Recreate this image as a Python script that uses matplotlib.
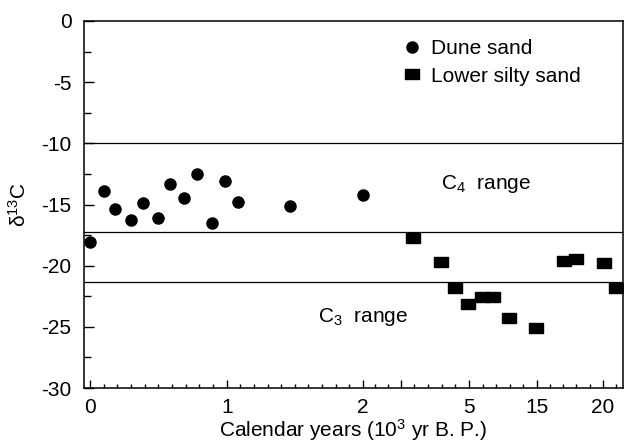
import numpy as np
import matplotlib
matplotlib.use("Agg")
import matplotlib.pyplot as plt
from matplotlib.path import Path
from matplotlib.ticker import FixedLocator, FixedFormatter, NullFormatter

plt.rcParams["font.family"] = ["Liberation Sans", "DejaVu Sans"]
plt.rcParams["axes.unicode_minus"] = False
plt.rcParams["mathtext.default"] = "regular"

FS = 15

# Dune sand samples (calendar age in ka, d13C permil)
dune_age = [0.0, 0.1, 0.18, 0.30, 0.39, 0.50, 0.585, 0.69, 0.78, 0.89, 0.99, 1.08, 1.465, 2.01]
dune_d13c = [-18.1, -13.9, -15.4, -16.3, -14.9, -16.1, -13.3, -14.5, -12.5, -16.5, -13.1, -14.8, -15.1, -14.2]

# Lower silty sand samples
silt_age = [3.37, 4.18, 4.59, 4.98, 6.9, 8.6, 10.9, 14.9, 17.06, 17.96, 20.08, 21.0]
silt_d13c = [-17.75, -19.7, -21.85, -23.1, -22.55, -22.55, -24.3, -25.1, -19.6, -19.45, -19.75, -21.85]

# Boundaries of the C4 and C3 photosynthetic ranges
c4_upper, c4_lower, c3_upper = -10.0, -17.25, -21.3

# Broken calendar axis: age breakpoints and their relative positions
age_breaks = np.array([0.0, 1.0, 2.0, 3.0, 5.0, 15.0, 20.0])
pos_breaks = np.array([90.0, 226.7, 362.7, 400.7, 469.0, 536.7, 603.0])

major_ticks = [0, 1, 2, 3, 5, 15, 20]
major_labels = ["0", "1", "2", "", "5", "15", "20"]
minor_ticks = (list(np.round(np.arange(0.1, 2.0, 0.1), 2))
               + [2 + 1 / 3, 2 + 2 / 3]
               + [3.4, 3.8, 4.2, 4.6]
               + [7, 9, 11, 13]
               + [16, 17, 18, 19, 21])


def age_to_pos(x):
    x = np.asarray(x, dtype=float)
    y = np.interp(x, age_breaks, pos_breaks)
    lo_slope = (pos_breaks[1] - pos_breaks[0]) / (age_breaks[1] - age_breaks[0])
    hi_slope = (pos_breaks[-1] - pos_breaks[-2]) / (age_breaks[-1] - age_breaks[-2])
    y = np.where(x < age_breaks[0], pos_breaks[0] + (x - age_breaks[0]) * lo_slope, y)
    y = np.where(x > age_breaks[-1], pos_breaks[-1] + (x - age_breaks[-1]) * hi_slope, y)
    return y


def pos_to_age(p):
    p = np.asarray(p, dtype=float)
    x = np.interp(p, pos_breaks, age_breaks)
    lo_slope = (age_breaks[1] - age_breaks[0]) / (pos_breaks[1] - pos_breaks[0])
    hi_slope = (age_breaks[-1] - age_breaks[-2]) / (pos_breaks[-1] - pos_breaks[-2])
    x = np.where(p < pos_breaks[0], age_breaks[0] + (p - pos_breaks[0]) * lo_slope, x)
    x = np.where(p > pos_breaks[-1], age_breaks[-1] + (p - pos_breaks[-1]) * hi_slope, x)
    return x


fig = plt.figure(figsize=(6.25, 4.43), dpi=100)
ax = fig.add_axes([84 / 625, 55 / 443, 538.5 / 625, 367 / 443])
ax.set_xscale("function", functions=(age_to_pos, pos_to_age))
ax.set_xlim(float(pos_to_age(84.0)), float(pos_to_age(622.5)))
ax.set_ylim(-30, 0)

for v in (c4_upper, c4_lower, c3_upper):
    ax.axhline(v, color="black", lw=0.9, zorder=1)

rect = Path([(-1, -0.66), (1, -0.66), (1, 0.66), (-1, 0.66), (-1, -0.66)],
            [Path.MOVETO, Path.LINETO, Path.LINETO, Path.LINETO, Path.CLOSEPOLY])

ax.plot(dune_age, dune_d13c, ls="none", marker="o", ms=8, color="black",
        label="Dune sand", zorder=3)
ax.plot(silt_age, silt_d13c, ls="none", marker=rect, ms=10, color="black",
        label="Lower silty sand", zorder=3)

ax.text(7.5, -13.3, r"$C_4$  range", fontsize=FS, ha="center", va="center")
ax.text(2.0, -24.2, r"$C_3$  range", fontsize=FS, ha="center", va="center")

leg = ax.legend(loc="upper left", bbox_to_anchor=(0.565, 0.99), frameon=False,
                fontsize=FS, handlelength=0.9, handletextpad=0.45,
                labelspacing=0.4, borderaxespad=0.3)

ax.xaxis.set_major_locator(FixedLocator(major_ticks))
ax.xaxis.set_major_formatter(FixedFormatter(major_labels))
ax.xaxis.set_minor_locator(FixedLocator(minor_ticks))
ax.xaxis.set_minor_formatter(NullFormatter())
ax.set_yticks(np.arange(-30, 1, 5))
ax.set_yticks(np.arange(-27.5, 0, 5), minor=True)

ax.tick_params(axis="both", which="both", direction="in", labelsize=FS,
               color="black", width=1.0)
ax.tick_params(axis="x", which="major", length=5.5, pad=7)
ax.tick_params(axis="x", which="minor", length=3)
ax.tick_params(axis="y", which="major", length=7, pad=9)
ax.tick_params(axis="y", which="minor", length=5)
ax.tick_params(top=False, right=False, which="both")

for s in ax.spines.values():
    s.set_linewidth(1.1)

ax.set_xlabel(r"Calendar years ($10^3$ yr B. P.)", fontsize=FS, labelpad=0)
ax.set_ylabel(r"$\delta^{13}$C", fontsize=FS, labelpad=8)

fig.savefig("out.png", dpi=100)
